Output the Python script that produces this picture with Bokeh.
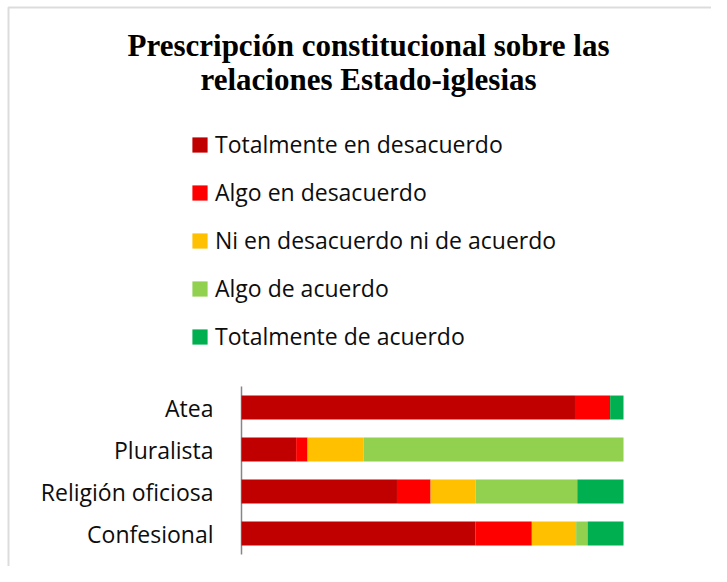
from bokeh.plotting import figure
from bokeh.models import Range1d, Legend, LegendItem, Label, ColumnDataSource, BoxAnnotation
from bokeh.embed import file_html
from bokeh.resources import INLINE

# ---- data ----
categories = ["Atea", "Pluralista", "Religión oficiosa", "Confesional"]
series_names = [
    "Totalmente en desacuerdo",
    "Algo en desacuerdo",
    "Ni en desacuerdo ni de acuerdo",
    "Algo de acuerdo",
    "Totalmente de acuerdo",
]
totalmente_desacuerdo = [87.3, 14.3, 40.7, 61.2]
algo_desacuerdo = [9.2, 3.0, 8.8, 14.8]
ni_ni = [0.0, 14.7, 11.8, 11.6]
algo_acuerdo = [0.0, 68.0, 26.6, 3.0]
totalmente_acuerdo = [3.5, 0.0, 12.1, 9.4]
title_lines = ["Prescripción constitucional sobre las", "relaciones Estado-iglesias"]

colors = ["#C00000", "#FF0000", "#FFC000", "#92D050", "#00B050"]
keys = ["s0", "s1", "s2", "s3", "s4"]

W, H = 711, 566
# layout of the plotting area (pixels, from top-left of canvas)
X0_PX, X100_PX = 241, 623          # where 0 % and 100 % fall
ROW0_PX, ROW_STEP = 407, 42        # centre of first category row, row pitch
px_per_unit = (X100_PX - X0_PX) / 100.0

pos = list(range(len(categories)))
source = ColumnDataSource(dict(
    cat=categories,
    pos=pos,
    s0=totalmente_desacuerdo,
    s1=algo_desacuerdo,
    s2=ni_ni,
    s3=algo_acuerdo,
    s4=totalmente_acuerdo,
))

FONT = "Open Sans"
TXT = "#0d0d0d"

p = figure(
    width=W, height=H,
    x_range=Range1d(-X0_PX / px_per_unit, (W - X0_PX) / px_per_unit),
    y_range=Range1d((H - ROW0_PX) / ROW_STEP, -ROW0_PX / ROW_STEP),
    output_backend="svg", toolbar_location=None,
    min_border=0,
)
p.title.visible = False
p.axis.visible = False
p.grid.visible = False
p.outline_line_color = None

# axis line (left of bars)
n = len(categories)
p.segment(x0=[0], y0=[-0.5], x1=[0], y1=[n - 0.5], line_color="#868686", line_width=1.5)

renderers = p.hbar_stack(keys, y="pos", height=0.57, color=colors,
                         source=source, line_color=None)

# category labels
p.text(x=0, y="pos", text="cat", source=source, x_offset=-28,
       text_align="right", text_baseline="middle",
       text_font={"value": FONT}, text_font_size={"value": "23px"}, text_color=TXT)

legend = Legend(
    items=[LegendItem(label=nm, renderers=[r]) for nm, r in zip(series_names, renderers)],
    location=(190, 214), orientation="vertical",
    padding=0, margin=0, spacing=16,
    glyph_width=19, glyph_height=19, label_height=22, label_standoff=6,
    label_text_font=FONT, label_text_font_size="23px", label_text_color=TXT,
    border_line_color=None, background_fill_alpha=0,
)
p.add_layout(legend, "center")

for txt, yy in zip(title_lines, [H - 56 + 11, H - 90 + 11]):
    p.add_layout(Label(
        x=368, y=yy, x_units="screen", y_units="screen", text=txt,
        text_align="center", text_baseline="alphabetic",
        text_font="Liberation Serif", text_font_style="bold",
        text_font_size="31px", text_color="#000000",
    ))

# chart-area border (as in the reference, starting 8px in)
p.add_layout(BoxAnnotation(
    left=8, right=W + 20, top=H - 7, bottom=-20,
    left_units="screen", right_units="screen", top_units="screen", bottom_units="screen",
    fill_alpha=0, line_color="#8a8a8a", line_width=2,
))

open("out.html", "w").write(file_html(p, INLINE))
